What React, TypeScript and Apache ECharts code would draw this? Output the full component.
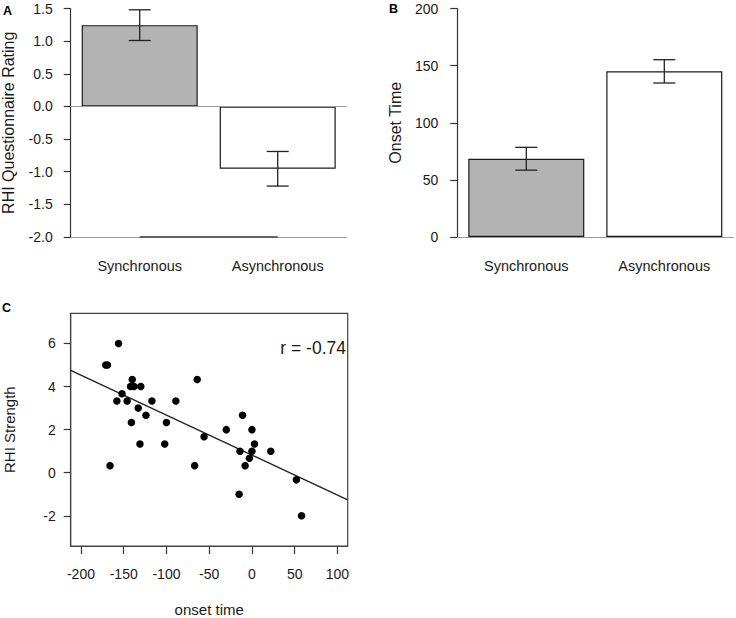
import React, { useEffect, useRef } from "react";
import * as echarts from "echarts";

// ---- Data ----
const categories = ["Synchronous", "Asynchronous"];

// Panel A: RHI questionnaire rating (mean, s.e.)
const ratingMeans = [1.245, -0.955];
const ratingErrors = [0.235, 0.265];

// Panel B: onset time (mean, s.e.)
const onsetMeans = [68.5, 145];
const onsetErrors = [10, 10.2];

// Panel C: scatter (onset time vs RHI strength)
const onsetTime = [
  -156, -171, -169, -140, -64, -142, -138, -130, -152, -158, -146, -117, -89,
  -133, -124, -11, -141, -100, -30, 0, -56, -131, -102, 3, -14, 0, 22, -3, -8,
  -166, -67, 52, -15, 58,
];
const rhiStrength = [
  6.0, 5.0, 5.0, 4.33, 4.33, 4.0, 4.0, 4.0, 3.67, 3.33, 3.33, 3.33, 3.33, 3.0,
  2.67, 2.67, 2.33, 2.33, 2.0, 2.0, 1.67, 1.33, 1.33, 1.33, 1.0, 1.0, 1.0, 0.67,
  0.33, 0.33, 0.33, -0.33, -1.0, -2.0,
];
// fitted regression line end points (drawn edge to edge)
const fitLineX = [-212, 112];
const fitLineY = [4.75, -1.26];

const xTicksC = [-200, -150, -100, -50, 0, 50, 100];
const yTicksC = [-2, 0, 2, 4, 6];

const FONT = "'Liberation Sans', Arial, Helvetica, sans-serif";
const TXT = "#1a1a1a";
const AX = "#333333";
const GRAY_LINE = "#9a9a9a";
const BAR_GRAY = "#b3b3b3";

function errorSeries(
  xAxisIndex: number,
  yAxisIndex: number,
  means: number[],
  errs: number[]
) {
  const data = means.map((m, i) => [i, m - errs[i], m + errs[i]]);
  return {
    type: "custom",
    xAxisIndex,
    yAxisIndex,
    z: 5,
    silent: true,
    encode: { x: 0, y: [1, 2] },
    data,
    renderItem: (_params: any, api: any) => {
      const lo = api.coord([api.value(0), api.value(1)]);
      const hi = api.coord([api.value(0), api.value(2)]);
      const hw = 11;
      const style = { stroke: "#222", lineWidth: 1.3 };
      return {
        type: "group",
        children: [
          { type: "line", shape: { x1: lo[0], y1: lo[1], x2: hi[0], y2: hi[1] }, style },
          { type: "line", shape: { x1: lo[0] - hw, y1: lo[1], x2: lo[0] + hw, y2: lo[1] }, style },
          { type: "line", shape: { x1: hi[0] - hw, y1: hi[1], x2: hi[0] + hw, y2: hi[1] }, style },
        ],
      };
    },
  };
}

function barSeries(xAxisIndex: number, yAxisIndex: number, means: number[], extra: any = {}) {
  return {
    type: "bar",
    xAxisIndex,
    yAxisIndex,
    barWidth: 116,
    z: 3,
    silent: true,
    data: means.map((v, i) => ({
      value: v,
      itemStyle: {
        color: i === 0 ? BAR_GRAY : "#ffffff",
        borderColor: "#1a1a1a",
        borderWidth: 1.2,
      },
    })),
    ...extra,
  };
}

export default function App() {
  const ref = useRef<HTMLDivElement>(null);

  useEffect(() => {
    document.body.style.margin = "0";
    if (!ref.current) return;
    const chart = echarts.init(ref.current, undefined, { renderer: "svg" });

    const tickLabel = { color: TXT, fontSize: 14, fontFamily: FONT };
    const nameStyle = (size: number) => ({ color: TXT, fontSize: size, fontFamily: FONT });

    const option: any = {
      animation: false,
      backgroundColor: "#ffffff",
      textStyle: { fontFamily: FONT },
      grid: [
        { left: 70.7, top: 8.5, width: 276, height: 228.5, outerBoundsMode: "none" },
        { left: 457.3, top: 8.5, width: 276, height: 228.5, outerBoundsMode: "none" },
        {
          left: 70.7,
          top: 313.3,
          width: 277,
          height: 232.7,
          show: true,
          borderColor: "#444",
          borderWidth: 1.2,
          backgroundColor: "transparent",
          outerBoundsMode: "none",
        },
      ],
      xAxis: [
        {
          gridIndex: 0,
          type: "category",
          data: categories,
          axisLine: { onZero: false, lineStyle: { color: GRAY_LINE, width: 1.2 } },
          axisTick: { alignWithLabel: true, length: 9, lineStyle: { color: AX, width: 1.2 } },
          axisLabel: { ...tickLabel, fontSize: 14.5, margin: 21 },
          splitLine: { show: false },
        },
        {
          gridIndex: 1,
          type: "category",
          data: categories,
          axisLine: { onZero: false, lineStyle: { color: GRAY_LINE, width: 1.2 } },
          axisTick: { alignWithLabel: true, length: 9, lineStyle: { color: AX, width: 1.2 } },
          axisLabel: { ...tickLabel, fontSize: 14.5, margin: 21 },
          splitLine: { show: false },
        },
        {
          gridIndex: 2,
          type: "value",
          min: -212,
          max: 112,
          name: "onset time",
          nameLocation: "middle",
          nameGap: 56,
          nameTextStyle: nameStyle(15),
          axisLine: { show: true, onZero: false, lineStyle: { color: "#444", width: 1.2 } },
          axisTick: { show: true, length: 8, customValues: xTicksC, lineStyle: { color: AX, width: 1.2 } },
          axisLabel: { ...tickLabel, margin: 21, customValues: xTicksC },
          splitLine: { show: false },
        },
      ],
      yAxis: [
        {
          gridIndex: 0,
          type: "value",
          min: -2,
          max: 1.5,
          interval: 0.5,
          name: "RHI Questionnaire Rating",
          nameLocation: "middle",
          nameGap: 54,
          nameTextStyle: nameStyle(16),
          axisLine: { show: true, lineStyle: { color: AX, width: 1.2 } },
          axisTick: { show: true, length: 7, lineStyle: { color: AX, width: 1.2 } },
          axisLabel: { ...tickLabel, margin: 18, formatter: (v: number) => v.toFixed(1) },
          splitLine: { show: false },
        },
        {
          gridIndex: 1,
          type: "value",
          min: 0,
          max: 200,
          interval: 50,
          name: "Onset Time",
          nameLocation: "middle",
          nameGap: 54,
          nameTextStyle: nameStyle(16),
          axisLine: { show: true, lineStyle: { color: AX, width: 1.2 } },
          axisTick: { show: true, length: 7, lineStyle: { color: AX, width: 1.2 } },
          axisLabel: { ...tickLabel, margin: 19 },
          splitLine: { show: false },
        },
        {
          gridIndex: 2,
          type: "value",
          min: -3.4,
          max: 7.4,
          name: "RHI Strength",
          nameLocation: "middle",
          nameGap: 54,
          nameTextStyle: nameStyle(15),
          axisLine: { show: true, onZero: false, lineStyle: { color: "#444", width: 1.2 } },
          axisTick: { show: true, length: 7, customValues: yTicksC, lineStyle: { color: AX, width: 1.2 } },
          axisLabel: { ...tickLabel, margin: 15, customValues: yTicksC },
          splitLine: { show: false },
        },
      ],
      series: [
        barSeries(0, 0, ratingMeans, {
          markLine: {
            silent: true,
            symbol: "none",
            label: { show: false },
            lineStyle: { color: GRAY_LINE, width: 1.2, type: "solid" },
            data: [{ yAxis: 0 }],
          },
        }),
        {
          type: "line",
          xAxisIndex: 0,
          yAxisIndex: 0,
          silent: true,
          z: 6,
          symbol: "none",
          lineStyle: { color: AX, width: 1.3 },
          data: categories.map((c) => [c, -2]),
        },
        errorSeries(0, 0, ratingMeans, ratingErrors),
        barSeries(1, 1, onsetMeans),
        errorSeries(1, 1, onsetMeans, onsetErrors),
        {
          type: "line",
          xAxisIndex: 2,
          yAxisIndex: 2,
          silent: true,
          z: 4,
          symbol: "none",
          lineStyle: { color: "#222", width: 1.4 },
          data: fitLineX.map((x, i) => [x, fitLineY[i]]),
        },
        {
          type: "scatter",
          xAxisIndex: 2,
          yAxisIndex: 2,
          silent: true,
          z: 5,
          symbolSize: 7.5,
          itemStyle: { color: "#000000", opacity: 1 },
          data: onsetTime.map((x, i) => [x, rhiStrength[i]]),
        },
      ],
      graphic: [
        {
          type: "text",
          left: 3,
          top: 4,
          style: { text: "A", fontSize: 12.5, fontWeight: "bold", fontFamily: FONT, fill: "#000" },
        },
        {
          type: "text",
          left: 389,
          top: 2,
          style: { text: "B", fontSize: 12.5, fontWeight: "bold", fontFamily: FONT, fill: "#000" },
        },
        {
          type: "text",
          left: 2,
          top: 301,
          style: { text: "C", fontSize: 12.5, fontWeight: "bold", fontFamily: FONT, fill: "#000" },
        },
        {
          type: "text",
          x: 346,
          y: 348,
          z: 10,
          style: {
            text: "r = -0.74",
            fontSize: 17.5,
            fontFamily: FONT,
            fill: TXT,
            align: "right",
            verticalAlign: "middle",
          },
        },
      ],
    };

    chart.setOption(option);
    return () => {
      chart.dispose();
    };
  }, []);

  return <div ref={ref} style={{ width: 736, height: 618, background: "#fff" }} />;
}
